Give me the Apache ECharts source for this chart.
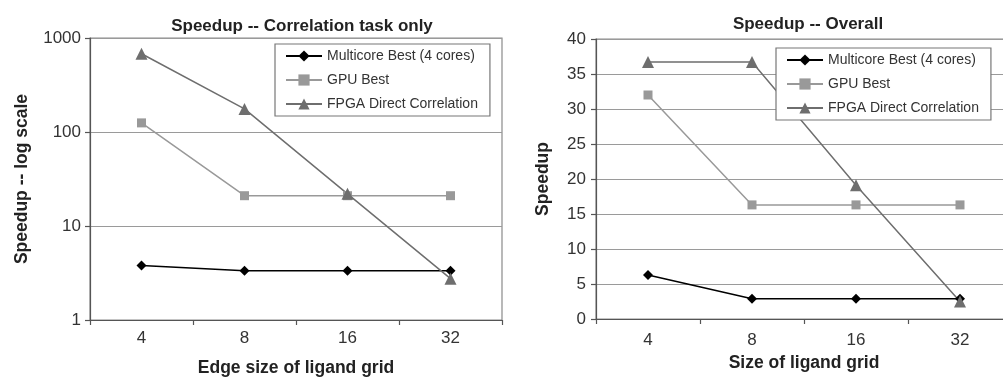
<!DOCTYPE html>
<html>
<head>
<meta charset="utf-8">
<script src="https://cdn.jsdelivr.net/npm/echarts@6/dist/echarts.min.js"></script>
<style>html,body{margin:0;padding:0;background:#fff;overflow:hidden;width:1003px;height:382px;}#c{width:1014px;height:382px;}</style>
</head>
<body>
<div id="c"></div>
<script>
// Data
var categories = ['4', '8', '16', '32'];
var seriesNames = ['Multicore Best (4 cores)', 'GPU Best', 'FPGA Direct Correlation'];
// Left chart: Speedup -- Correlation task only (log scale)
var corrMulticore = [3.8, 3.35, 3.35, 3.35];
var corrGPU = [125, 21, 21, 21];
var corrFPGA = [680, 176, 22, 2.75];
// Right chart: Speedup -- Overall
var overallMulticore = [6.3, 2.9, 2.9, 2.9];
var overallGPU = [32, 16.3, 16.3, 16.3];
var overallFPGA = [36.7, 36.7, 19.1, 2.5];

var FONT = '"Liberation Sans", Arial, sans-serif';
var styles = [
  {color: '#000000', symbol: 'diamond', size: 10},
  {color: '#999999', symbol: 'rect', size: 9},
  {color: '#6e6e6e', symbol: 'triangle', size: 12}
];
function mk(name, idx, data, axisIdx) {
  var s = styles[idx];
  return {
    name: name, type: 'line', xAxisIndex: axisIdx, yAxisIndex: axisIdx,
    data: data, symbol: s.symbol, symbolSize: s.size, showSymbol: true,
    lineStyle: {color: s.color, width: 1.5},
    itemStyle: {color: s.color},
    animation: false, z: 5
  };
}
var axisLineStyle = {color: '#555', width: 1.2};
var gridLine = {show: true, lineStyle: {color: '#9a9a9a', width: 1.2}};
var TICK = 17, NAME = 17.5;
function legendCfg(left, top) {
  return {
    orient: 'vertical', left: left, top: top,
    data: seriesNames,
    itemWidth: 36, itemHeight: 14, itemGap: 10,
    padding: [5, 12, 5, 10],
    borderColor: '#777', borderWidth: 1.2, backgroundColor: '#fff',
    textStyle: {fontFamily: FONT, fontSize: 14, color: '#333'},
    z: 10
  };
}
var chart = echarts.init(document.getElementById('c'), null, {renderer: 'canvas'});
chart.setOption({
  animation: false,
  backgroundColor: '#fff',
  title: [
    {text: 'Speedup -- Correlation task only', left: 297, textAlign: 'center', top: 13,
     textStyle: {fontFamily: FONT, fontSize: 17, fontWeight: 'bold', color: '#222'}},
    {text: 'Speedup -- Overall', left: 803, textAlign: 'center', top: 11,
     textStyle: {fontFamily: FONT, fontSize: 17, fontWeight: 'bold', color: '#222'}}
  ],
  legend: [legendCfg(275, 44), legendCfg(776, 48)],
  grid: [
    {left: 90, top: 38, width: 412, height: 284, show: true, borderColor: '#8a8a8a', borderWidth: 1.2, backgroundColor: 'transparent'},
    {left: 596, top: 39, width: 416, height: 280, show: true, borderColor: '#8a8a8a', borderWidth: 1.2, backgroundColor: 'transparent'}
  ],
  xAxis: [
    {type: 'category', gridIndex: 0, data: categories, boundaryGap: true,
     name: 'Edge size of ligand grid', nameLocation: 'middle', nameGap: 39,
     nameTextStyle: {fontFamily: FONT, fontSize: NAME, fontWeight: 'bold', color: '#222'},
     axisLine: {lineStyle: axisLineStyle}, axisTick: {show: true, length: 5, lineStyle: axisLineStyle},
     axisLabel: {fontFamily: FONT, fontSize: TICK, color: '#333', margin: 10}, splitLine: {show: false}},
    {type: 'category', gridIndex: 1, data: categories, boundaryGap: true,
     name: 'Size of ligand grid', nameLocation: 'middle', nameGap: 31,
     nameTextStyle: {fontFamily: FONT, fontSize: NAME, fontWeight: 'bold', color: '#222'},
     axisLine: {lineStyle: axisLineStyle}, axisTick: {show: true, length: 5, lineStyle: axisLineStyle},
     axisLabel: {fontFamily: FONT, fontSize: TICK, color: '#333', margin: 13}, splitLine: {show: false}}
  ],
  yAxis: [
    {type: 'log', logBase: 10, gridIndex: 0, min: 1, max: 1000,
     name: 'Speedup -- log scale', nameLocation: 'middle', nameGap: 59, nameRotate: 90,
     nameTextStyle: {fontFamily: FONT, fontSize: NAME, fontWeight: 'bold', color: '#222'},
     axisLine: {show: true, lineStyle: axisLineStyle}, axisTick: {show: true, length: 5, lineStyle: axisLineStyle},
     axisLabel: {fontFamily: FONT, fontSize: TICK, color: '#333', margin: 9, formatter: function (v) { return String(Math.round(v)); }},
     splitLine: gridLine, minorTick: {show: false}},
    {type: 'value', gridIndex: 1, min: 0, max: 40, interval: 5,
     name: 'Speedup', nameLocation: 'middle', nameGap: 44, nameRotate: 90,
     nameTextStyle: {fontFamily: FONT, fontSize: NAME, fontWeight: 'bold', color: '#222'},
     axisLine: {show: true, lineStyle: axisLineStyle}, axisTick: {show: true, length: 5, lineStyle: axisLineStyle},
     axisLabel: {fontFamily: FONT, fontSize: TICK, color: '#333', margin: 10},
     splitLine: gridLine}
  ],
  series: [
    mk(seriesNames[0], 0, corrMulticore, 0),
    mk(seriesNames[1], 1, corrGPU, 0),
    mk(seriesNames[2], 2, corrFPGA, 0),
    mk(seriesNames[0], 0, overallMulticore, 1),
    mk(seriesNames[1], 1, overallGPU, 1),
    mk(seriesNames[2], 2, overallFPGA, 1)
  ]
});
</script>
</body>
</html>
